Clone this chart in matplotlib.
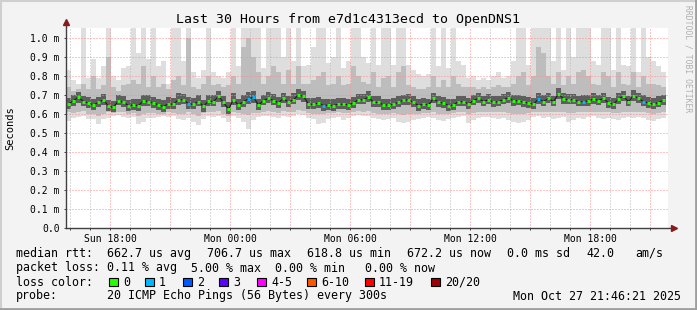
import numpy as np
import matplotlib.pyplot as plt
from matplotlib.lines import Line2D
from matplotlib.patches import Rectangle

mono = 'DejaVu Sans Mono'

# 15 minute steps, time in hours counted from Sun 00:00
t_start = 15.8
step = 0.25

# median rtt per step, microseconds
median = [653, 670, 688, 665, 658, 647, 661, 675, 640, 635, 670, 661, 644, 647, 644, 670, 665, 658, 647, 639,
          653, 651, 675, 675, 653, 651, 665, 640, 668, 665, 693, 661, 626, 675, 647, 665, 679, 688, 647, 670,
          682, 670, 658, 682, 661, 675, 700, 693, 651, 651, 658, 644, 647, 644, 651, 651, 647, 658, 675, 675,
          688, 661, 661, 647, 647, 651, 661, 672, 675, 661, 644, 651, 647, 682, 661, 658, 644, 647, 665, 665,
          653, 670, 682, 665, 675, 661, 665, 675, 686, 668, 670, 661, 658, 651, 679, 665, 682, 665, 705, 679,
          675, 675, 665, 665, 668, 679, 670, 682, 658, 651, 679, 693, 665, 696, 682, 665, 658, 651, 660, 672]

# lost pings (of 20) per step
loss = [0, 0, 0, 0, 0, 0, 0, 0, 0, 0, 0, 0, 0, 0, 0, 0, 0, 0, 0, 0,
        0, 0, 0, 0, 1, 0, 0, 0, 0, 0, 0, 0, 0, 0, 0, 0, 1, 1, 0, 0,
        0, 0, 0, 0, 0, 0, 0, 0, 0, 0, 0, 1, 0, 0, 0, 0, 0, 0, 0, 0,
        0, 0, 0, 0, 0, 0, 0, 0, 0, 0, 0, 0, 0, 0, 0, 0, 0, 0, 0, 0,
        0, 0, 0, 0, 0, 0, 0, 0, 0, 0, 0, 0, 0, 0, 1, 0, 0, 0, 0, 0,
        0, 0, 0, 1, 0, 0, 0, 0, 0, 0, 0, 0, 0, 0, 0, 1, 0, 0, 0, 0]

# smoke: slowest / fastest ping
ping_max = [830, 780, 760, 1100, 790, 890, 790, 850, 1100, 800, 780, 840, 850, 1100, 920, 1100, 890, 1100, 850, 880,
            760, 1100, 1100, 880, 1100, 820, 790, 830, 1100, 820, 800, 790, 820, 1100, 850, 1100, 1100, 1100, 1100, 840,
            1100, 1100, 1100, 900, 1100, 880, 1100, 850, 860, 950, 1100, 1100, 870, 900, 1100, 840, 880, 1100, 1100, 900,
            870, 1100, 860, 1100, 1100, 860, 1100, 1100, 860, 830, 810, 800, 810, 1100, 850, 1100, 840, 1100, 880, 860,
            790, 800, 780, 790, 780, 800, 820, 790, 800, 880, 1100, 1100, 860, 1100, 1100, 1100, 1100, 880, 1100, 830,
            1100, 900, 1100, 1100, 1100, 880, 860, 1100, 1100, 830, 1100, 860, 850, 1100, 820, 1100, 900, 880, 850, 820]
ping_min = [565, 580, 585, 590, 575, 575, 545, 575, 580, 590, 592, 585, 580, 582, 548, 555, 580, 580, 585, 588,
            585, 590, 575, 570, 580, 560, 540, 575, 590, 585, 590, 580, 560, 590, 580, 560, 520, 570, 585, 590,
            590, 585, 580, 590, 585, 590, 600, 595, 580, 575, 545, 550, 575, 580, 585, 570, 580, 590, 595, 590,
            590, 580, 575, 570, 575, 580, 560, 550, 560, 570, 575, 580, 585, 580, 570, 565, 575, 580, 585, 590,
            550, 570, 580, 585, 585, 580, 575, 580, 570, 560, 550, 560, 570, 585, 590, 580, 585, 575, 580, 585,
            560, 570, 580, 575, 585, 590, 580, 575, 580, 575, 570, 580, 585, 580, 585, 580, 570, 565, 575, 580]

# outer half of the pings
ping_hi = [740, 720, 730, 760, 730, 800, 730, 750, 900, 740, 720, 750, 760, 780, 760, 850, 740, 800, 740, 760,
           730, 780, 800, 750, 1000, 740, 730, 760, 800, 750, 760, 740, 750, 800, 760, 950, 1000, 900, 820, 760,
           800, 850, 820, 760, 830, 760, 850, 760, 760, 780, 800, 820, 750, 760, 800, 750, 760, 850, 800, 770,
           760, 820, 740, 790, 800, 740, 820, 850, 750, 740, 730, 730, 740, 800, 740, 780, 740, 800, 760, 740,
           740, 740, 730, 740, 730, 740, 750, 740, 740, 760, 800, 820, 750, 800, 950, 920, 800, 760, 820, 750,
           800, 760, 820, 830, 800, 760, 750, 820, 800, 740, 820, 760, 750, 820, 740, 800, 760, 760, 750, 740]
ping_lo = [610, 605, 610, 615, 600, 600, 590, 600, 610, 605, 612, 610, 600, 605, 590, 600, 605, 605, 600, 600,
           610, 605, 600, 600, 610, 600, 590, 605, 612, 608, 615, 600, 590, 610, 605, 600, 595, 605, 605, 610,
           615, 610, 605, 615, 608, 610, 620, 615, 605, 600, 600, 598, 605, 605, 610, 605, 605, 610, 615, 612,
           615, 605, 600, 600, 600, 605, 600, 595, 598, 600, 600, 605, 605, 610, 600, 600, 600, 605, 608, 610,
           600, 605, 610, 612, 610, 610, 608, 610, 605, 600, 600, 600, 605, 610, 612, 610, 612, 610, 612, 610,
           605, 605, 610, 608, 610, 612, 610, 608, 610, 605, 605, 610, 612, 610, 612, 610, 605, 600, 605, 608]

# inner pings around the median
ping_hi_in = [685, 700, 715, 695, 690, 680, 690, 705, 675, 670, 700, 695, 675, 680, 680, 700, 698, 690, 680, 672,
              688, 685, 710, 705, 690, 682, 698, 672, 700, 698, 722, 695, 662, 708, 680, 700, 715, 720, 680, 700,
              715, 705, 690, 712, 695, 708, 730, 722, 685, 682, 690, 676, 680, 676, 684, 682, 680, 690, 705, 706,
              718, 695, 692, 680, 680, 682, 694, 702, 706, 692, 676, 682, 678, 712, 692, 690, 676, 680, 696, 695,
              684, 700, 712, 695, 705, 692, 696, 705, 716, 700, 702, 694, 690, 684, 712, 698, 712, 696, 735, 708,
              705, 706, 696, 698, 700, 710, 702, 712, 690, 684, 710, 722, 696, 726, 712, 698, 690, 684, 692, 702]
ping_lo_in = [628, 642, 660, 640, 632, 622, 635, 648, 615, 610, 645, 635, 618, 620, 618, 642, 640, 632, 622, 612,
              628, 625, 648, 650, 625, 625, 640, 612, 642, 640, 665, 635, 600, 648, 620, 638, 652, 660, 620, 645,
              655, 645, 632, 655, 635, 650, 672, 665, 625, 625, 632, 618, 620, 618, 625, 625, 620, 632, 650, 650,
              662, 635, 635, 620, 620, 625, 635, 646, 648, 635, 618, 625, 620, 655, 635, 632, 618, 620, 640, 640,
              628, 645, 656, 640, 650, 635, 640, 650, 660, 642, 645, 635, 632, 625, 652, 640, 656, 640, 678, 652,
              650, 650, 640, 640, 642, 652, 645, 656, 632, 625, 652, 666, 640, 670, 656, 640, 632, 625, 635, 646]

loss_labels = ['0', '1', '2', '3', '4-5', '6-10', '11-19', '20/20']
loss_colors = ['#26ff00', '#00b8ff', '#0059ff', '#5e00ff', '#ff00ff', '#ff5500', '#ff0000', '#a00000']

x_major = [18, 21, 24, 27, 30, 33, 36, 39, 42, 45]
x_labels = ['Sun 18:00', '', 'Mon 00:00', '', 'Mon 06:00', '', 'Mon 12:00', '', 'Mon 18:00', '']
y_ticks = [0, 100, 200, 300, 400, 500, 600, 700, 800, 900, 1000]

W, H = 697, 310
fig = plt.figure(figsize=(W / 100, H / 100), dpi=100, facecolor='#f3f3f3')
ax = fig.add_axes([66 / W, 82 / H, 602 / W, 200 / H])
ax.set_facecolor('white')

t = t_start + step * np.arange(len(median))
med = np.array(median)

ax.bar(t, np.array(ping_max) - np.array(ping_min), bottom=ping_min, width=step, align='edge',
       color='#dedede', linewidth=0, zorder=1)
ax.bar(t, np.array(ping_hi) - np.array(ping_lo), bottom=ping_lo, width=step, align='edge',
       color='#bdbdbd', linewidth=0, zorder=1)
ax.bar(t, np.array(ping_hi_in) - np.array(ping_lo_in), bottom=ping_lo_in, width=step, align='edge',
       color='#5e5e5e', linewidth=0, zorder=1)

ax.plot(t + step / 2, med, color='#1a1a1a', lw=0.8, zorder=4)
cols = [loss_colors[v] for v in loss]
ax.hlines(med, t + 0.04, t + 0.21, colors=cols, lw=2.2, zorder=5)

ax.set_xlim(15.8, 45.9)
ax.set_ylim(0, 1052)

ax.set_xticks(x_major)
ax.set_xticklabels(x_labels)
ax.set_xticks(np.arange(16, 46), minor=True)
ax.set_yticks(y_ticks)
ax.set_yticklabels(['0.0'] + ['%.1f m' % (v / 1000) for v in y_ticks[1:]])

ax.set_axisbelow(False)
ax.grid(which='major', color='#ff8c8c', linestyle=(0, (1, 2)), lw=0.72)
ax.grid(which='minor', axis='x', color='#b8b8b8', linestyle=(0, (1, 2)), lw=0.72)
for gl in ax.get_xgridlines() + ax.get_ygridlines():
    gl.set_zorder(2)

ax.tick_params(which='both', direction='out', length=1.5, width=0.7, color='#404040',
               labelsize=7, pad=3)
for lab in ax.get_xticklabels() + ax.get_yticklabels():
    lab.set_family(mono)

for s in ax.spines.values():
    s.set_visible(False)

# axis lines with arrows
ax.plot([0, 0], [0, 1.025], transform=ax.transAxes, clip_on=False, color='#404040', lw=1.0, zorder=6)
ax.plot([0, 1.008], [0, 0], transform=ax.transAxes, clip_on=False, color='#404040', lw=1.0, zorder=6)
ax.plot([0], [1.03], marker='^', ms=4, color='#8b1a1a', transform=ax.transAxes, clip_on=False, zorder=7)
ax.plot([1.01], [0], marker='>', ms=4, color='#8b1a1a', transform=ax.transAxes, clip_on=False, zorder=7)

fig.text(348 / W, 1 - 19 / H, 'Last 30 Hours from e7d1c4313ecd to OpenDNS1', ha='center', va='center',
         family=mono, fontsize=9.5)
fig.text(10 / W, 1 - 128 / H, 'Seconds', rotation=90, ha='center', va='center', family=mono, fontsize=7.5)
fig.text(688 / W, 1 - 5 / H, 'RRDTOOL / TOBI OETIKER', rotation=270, ha='center', va='top',
         family=mono, fontsize=5.8, color='#b0b0b0')


def line(x, y, s, **kw):
    fig.text(x / W, 1 - y / H, s, ha=kw.pop('ha', 'left'), va='baseline', family=mono, fontsize=8.4, **kw)


line(16, 257, 'median rtt:')
line(107, 257, '662.7 us avg')
line(207, 257, '706.7 us max')
line(307, 257, '618.8 us min')
line(407, 257, '672.2 us now')
line(507, 257, '0.0 ms sd')
line(586, 257, '42.0')
line(635, 257, 'am/s')

line(16, 271.5, 'packet loss:')
line(107, 271.5, '0.11 % avg')
line(191, 271.5, '5.00 % max')
line(275, 271.5, '0.00 % min')
line(365, 271.5, '0.00 % now')

line(16, 285.5, 'loss color:')
box_x = [109, 145, 183, 219, 257, 307, 365, 431]
for bx, lab, c in zip(box_x, loss_labels, loss_colors):
    fig.patches.append(Rectangle((bx / W, 1 - 286 / H), 8.5 / W, 8.5 / H, transform=fig.transFigure,
                                 facecolor=c, edgecolor='black', lw=0.8))
    line(bx + 14, 285.5, lab)

line(16, 299.5, 'probe:')
line(107, 299.5, '20 ICMP Echo Pings (56 Bytes) every 300s')
line(681, 299.5, 'Mon Oct 27 21:46:21 2025', ha='right')

# 3d frame
fig.lines.append(Line2D([0, 1], [1 - 1 / H, 1 - 1 / H], transform=fig.transFigure, color='#cfcfcf', lw=1.5))
fig.lines.append(Line2D([1 / W, 1 / W], [0, 1], transform=fig.transFigure, color='#cfcfcf', lw=1.5))
fig.lines.append(Line2D([0, 1], [1.5 / H, 1.5 / H], transform=fig.transFigure, color='#9e9e9e', lw=2))
fig.lines.append(Line2D([1 - 1.5 / W, 1 - 1.5 / W], [0, 1], transform=fig.transFigure, color='#9e9e9e', lw=2))

fig.savefig('out.png', dpi=100, facecolor=fig.get_facecolor())
